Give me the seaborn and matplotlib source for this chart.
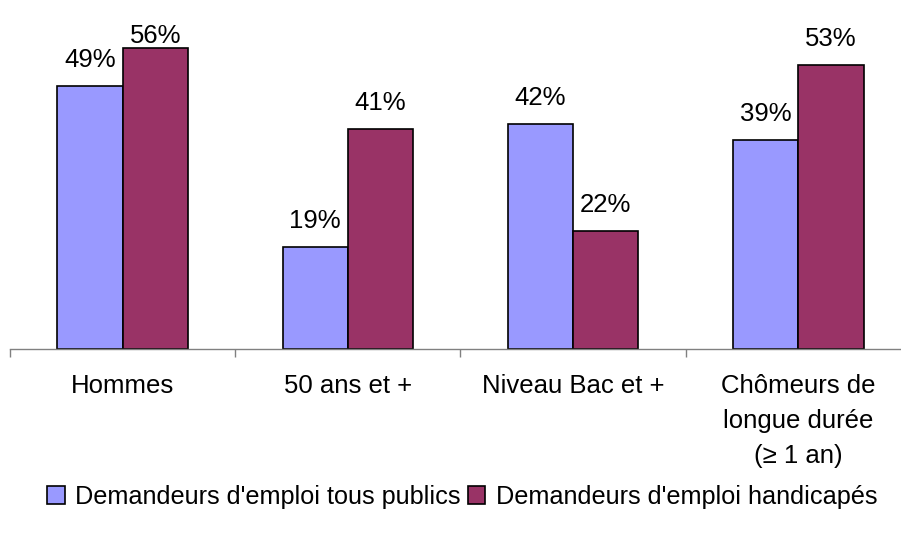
import matplotlib
matplotlib.use('Agg')
import matplotlib.pyplot as plt
import seaborn as sns
import pandas as pd
from matplotlib.patches import Patch

categories = ['Hommes', '50 ans et +', 'Niveau Bac et +', 'Chômeurs de\nlongue durée\n(≥ 1 an)']
series = ["Demandeurs d'emploi tous publics", "Demandeurs d'emploi handicapés"]
tous_publics = [49, 19, 42, 39]
handicapes = [56, 41, 22, 53]
colors = ['#9999FF', '#993366']

df = pd.DataFrame({
    'cat': categories * 2,
    'serie': [series[0]] * 4 + [series[1]] * 4,
    'val': tous_publics + handicapes,
})

sns.set_style('white')
plt.rcParams['font.family'] = ['Liberation Sans', 'DejaVu Sans']
plt.rcParams['text.color'] = 'black'
plt.rcParams['xtick.labelcolor'] = 'black'
fs = 18.5

fig = plt.figure(figsize=(9.01, 5.34), dpi=100)
ax = fig.add_axes([10 / 901, 185 / 534, 901 / 901, 322 / 534])

sns.barplot(data=df, x='cat', y='val', hue='serie', palette=colors, width=0.58,
            edgecolor='black', linewidth=1.2, saturation=1, ax=ax, legend=False)

top = max(tous_publics + handicapes)
for cont in ax.containers:
    anns = ax.bar_label(cont, fmt='%d%%', padding=10, fontsize=fs, color='black',
                        clip_on=False)
    # the highest label is squeezed down against the top, as in the source
    for bar, ann in zip(cont, anns):
        if bar.get_height() == top:
            ann.xyann = (0, 0.5)

ax.set_xlim(-0.5, 3.5)
ax.set_ylim(0, 60)
ax.set_xlabel('')
ax.set_ylabel('')
ax.set_yticks([])

for s in ['top', 'right', 'left']:
    ax.spines[s].set_visible(False)
ax.spines['bottom'].set_color('#808080')
ax.spines['bottom'].set_linewidth(1)

ax.set_xticks([-0.5, 0.5, 1.5, 2.5, 3.5])
ax.set_xticklabels([])
ax.set_xticks(range(4), minor=True)
ax.set_xticklabels(categories, minor=True, fontsize=fs, linespacing=1.58, color='black')
ax.tick_params(axis='x', which='major', direction='out', length=6, width=1,
               color='#808080', bottom=True)
ax.tick_params(axis='x', which='minor', length=0, pad=18)
for lab in ax.get_xticklabels(minor=True):
    lab.set_verticalalignment('top')

handles = [Patch(facecolor=c, edgecolor='black', linewidth=1.2) for c in colors]
leg = fig.legend(handles, series, loc='center', bbox_to_anchor=(462 / 901, 1 - 497 / 534),
                 ncol=2, frameon=False, fontsize=18.2, handlelength=0.7, handleheight=0.7,
                 handletextpad=0.4, columnspacing=0.3, borderaxespad=0)
for t in leg.get_texts():
    t.set_color('black')

fig.savefig('out.png', dpi=100)
